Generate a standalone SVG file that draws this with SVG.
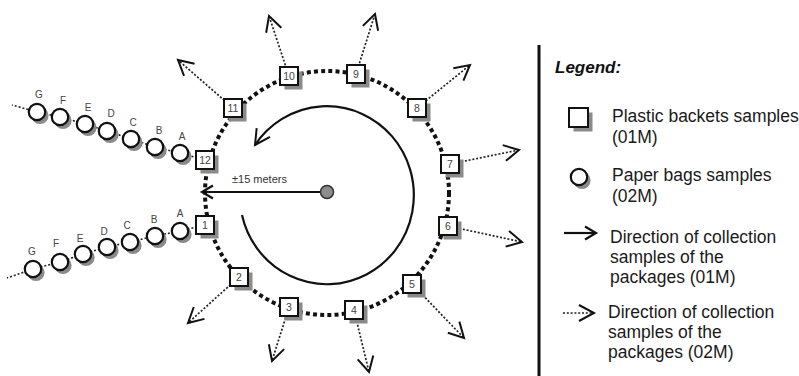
<svg xmlns="http://www.w3.org/2000/svg" width="799" height="376" viewBox="0 0 799 376">
  <style>
    .ring { fill: none; stroke: #111; stroke-width: 4; stroke-dasharray: 4 3.2; }
    .out { fill: none; stroke: #222; stroke-width: 1.7; stroke-dasharray: 2 1.8; marker-end: url(#vhead); }
    .chain { fill: none; stroke: #222; stroke-width: 1.6; stroke-dasharray: 2 2; }
    .solid { fill: none; stroke: #111; stroke-width: 2.2; }
    .box { fill: #fff; stroke: #111; stroke-width: 2; }
    .shade { fill: #8a8a8a; }
    .bag { fill: #fff; stroke: #111; stroke-width: 2.2; }
    .num { font-family: "Liberation Sans", Arial, sans-serif; font-size: 10.5px; fill: #444; text-anchor: middle; }
    .let { font-family: "Liberation Sans", Arial, sans-serif; font-size: 10px; fill: #444; text-anchor: middle; }
    .lbl { font-family: "Liberation Sans", Arial, sans-serif; font-size: 11px; fill: #333; }
    .leg { font-family: "Liberation Sans", Arial, sans-serif; font-size: 17.5px; fill: #1a1a1a; }
    .title { font-family: "Liberation Sans", Arial, sans-serif; font-size: 17px; font-weight: bold; font-style: italic; fill: #111; }
  </style>
  <defs>
    <marker id="vhead" viewBox="-18 -10 22 20" markerWidth="22" markerHeight="20" refX="0" refY="0" orient="auto" markerUnits="userSpaceOnUse">
      <path d="M-15,-8 L0,0 L-15,8" fill="none" stroke="#111" stroke-width="2"/>
    </marker>
    <marker id="shead" viewBox="-14 -10 18 20" markerWidth="18" markerHeight="20" refX="0" refY="0" orient="auto" markerUnits="userSpaceOnUse">
      <path d="M-11,-6.5 L0,0 L-11,6.5" fill="none" stroke="#111" stroke-width="2.2"/>
    </marker>
    <!-- sample box with drop shadow -->
    <g id="sq">
      <rect class="shade" x="-4.5" y="-4.5" width="18" height="18"/>
      <rect class="box" x="-9" y="-9" width="18" height="18"/>
    </g>
    <!-- paper bag with drop shadow -->
    <g id="bg">
      <circle class="shade" cx="3" cy="3.5" r="8.6"/>
      <circle class="bag" cx="0" cy="0" r="8.2"/>
    </g>
  </defs>

  <rect width="799" height="376" fill="#fff"/>

  <!-- connectors -->
  <g id="connectors">
    <circle class="ring" cx="327" cy="193" r="122"/>
    <!-- outward collection directions -->
    <path class="out" d="M233,108 L178,60"/>
    <path class="out" d="M289,76 L269,16"/>
    <path class="out" d="M356,74 L375,14"/>
    <path class="out" d="M417,108 L470,65"/>
    <path class="out" d="M450,164 L519,150"/>
    <path class="out" d="M448,226 L522,242"/>
    <path class="out" d="M412,284 L464,338"/>
    <path class="out" d="M354,310 L369,372"/>
    <path class="out" d="M289,307 L272,361"/>
    <path class="out" d="M239,277 L188,323"/>
    <!-- paper bag chains -->
    <polyline class="chain" points="205,160 180,153 155,147 131,139 107,131 85,124 60,117 37,112 12,105"/>
    <polyline class="chain" points="205,225 180,231 155,236 130,242 107,247 83,254 60,262 33,269 7,278"/>
    <!-- radius -->
    <path class="solid" d="M327,192 L202,192" marker-end="url(#shead)"/>
    <!-- collection direction around the ring -->
    <path class="solid" d="M242,215 A87,89 0 1 0 255,145" marker-end="url(#vhead)"/>
  </g>

  <text class="lbl" x="232" y="183">±15 meters</text>

  <g id="center"><circle cx="327" cy="192" r="6.5" fill="#8c8c8c" stroke="#333" stroke-width="1.5"/></g>

  <!-- plastic bucket sample points -->
  <g id="s1"><use href="#sq" x="205" y="225"/><text class="num" x="205" y="229">1</text></g>
  <g id="s2"><use href="#sq" x="239" y="277"/><text class="num" x="239" y="281">2</text></g>
  <g id="s3"><use href="#sq" x="289" y="307"/><text class="num" x="289" y="311">3</text></g>
  <g id="s4"><use href="#sq" x="354" y="310"/><text class="num" x="354" y="314">4</text></g>
  <g id="s5"><use href="#sq" x="412" y="284"/><text class="num" x="412" y="288">5</text></g>
  <g id="s6"><use href="#sq" x="448" y="226"/><text class="num" x="448" y="230">6</text></g>
  <g id="s7"><use href="#sq" x="450" y="164"/><text class="num" x="450" y="168">7</text></g>
  <g id="s8"><use href="#sq" x="417" y="108"/><text class="num" x="417" y="112">8</text></g>
  <g id="s9"><use href="#sq" x="356" y="74"/><text class="num" x="356" y="78">9</text></g>
  <g id="s10"><use href="#sq" x="289" y="76"/><text class="num" x="289" y="80">10</text></g>
  <g id="s11"><use href="#sq" x="233" y="108"/><text class="num" x="233" y="112">11</text></g>
  <g id="s12"><use href="#sq" x="205" y="160"/><text class="num" x="205" y="164">12</text></g>

  <!-- upper paper bag chain -->
  <g id="uA"><use href="#bg" x="180" y="153"/><text class="let" x="182" y="140">A</text></g>
  <g id="uB"><use href="#bg" x="155" y="147"/><text class="let" x="159" y="134">B</text></g>
  <g id="uC"><use href="#bg" x="131" y="139"/><text class="let" x="133" y="126">C</text></g>
  <g id="uD"><use href="#bg" x="107" y="131"/><text class="let" x="111" y="117">D</text></g>
  <g id="uE"><use href="#bg" x="85" y="124"/><text class="let" x="88" y="111">E</text></g>
  <g id="uF"><use href="#bg" x="60" y="117"/><text class="let" x="63" y="104">F</text></g>
  <g id="uG"><use href="#bg" x="37" y="112"/><text class="let" x="39" y="98">G</text></g>

  <!-- lower paper bag chain -->
  <g id="lA"><use href="#bg" x="180" y="231"/><text class="let" x="180" y="217">A</text></g>
  <g id="lB"><use href="#bg" x="155" y="236"/><text class="let" x="154" y="223">B</text></g>
  <g id="lC"><use href="#bg" x="130" y="242"/><text class="let" x="127" y="229">C</text></g>
  <g id="lD"><use href="#bg" x="107" y="247"/><text class="let" x="104" y="235">D</text></g>
  <g id="lE"><use href="#bg" x="83" y="254"/><text class="let" x="80" y="242">E</text></g>
  <g id="lF"><use href="#bg" x="60" y="262"/><text class="let" x="56" y="247">F</text></g>
  <g id="lG"><use href="#bg" x="33" y="269"/><text class="let" x="32" y="255">G</text></g>

  <!-- legend -->
  <g id="legend">
    <line x1="539" y1="45" x2="539" y2="376" stroke="#111" stroke-width="3"/>
    <text class="title" x="555" y="73">Legend:</text>
    <rect class="shade" x="573.5" y="112.5" width="19" height="19"/>
    <rect class="box" x="569" y="108" width="19" height="19"/>
    <text class="leg" x="612" y="122">Plastic backets samples</text>
    <text class="leg" x="612" y="143">(01M)</text>
    <use href="#bg" x="579" y="177"/>
    <text class="leg" x="612" y="181">Paper bags samples</text>
    <text class="leg" x="612" y="202">(02M)</text>
    <path class="solid" d="M564,233 L596,233" stroke-width="2.5" marker-end="url(#shead)"/>
    <text class="leg" x="610" y="243">Direction of collection</text>
    <text class="leg" x="610" y="263">samples of the</text>
    <text class="leg" x="610" y="283">packages (01M)</text>
    <path class="out" d="M563,313 L594,313"/>
    <text class="leg" x="608" y="318">Direction of collection</text>
    <text class="leg" x="608" y="338">samples of the</text>
    <text class="leg" x="608" y="358">packages (02M)</text>
  </g>
</svg>
